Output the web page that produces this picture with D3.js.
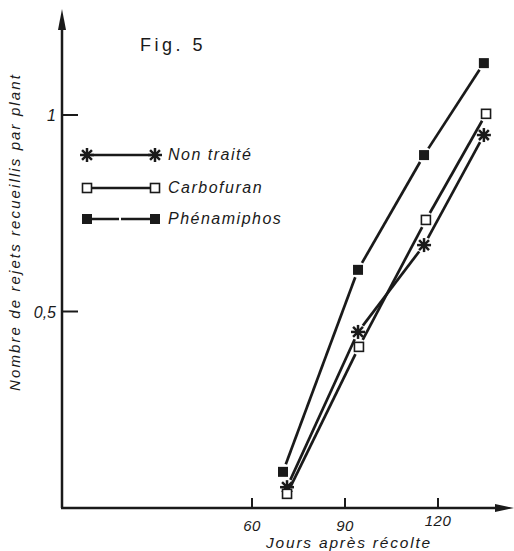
<!DOCTYPE html>
<html>
<head>
<meta charset="utf-8">
<script src="https://cdn.jsdelivr.net/npm/d3@7.9.0/dist/d3.min.js"></script>
<style>
  body { margin: 0; background: #fff; }
  svg { display: block; }
  text { font-family: "Liberation Sans", Arial, sans-serif; fill: #1a1a1a; }
  .it { font-style: italic; }
</style>
</head>
<body>
<svg width="514" height="551"></svg>
<script>
// data
const seriesNames = ['Non traité', 'Carbofuran', 'Phénamiphos'];
const nonTraiteDays = [71.3, 94.2, 115.5, 134.8];
const nonTraiteVals = [0.053, 0.448, 0.669, 0.949];
const carbofuranDays = [71.3, 94.5, 116.1, 135.5];
const carbofuranVals = [0.036, 0.41, 0.733, 1.003];
const phenamiphosDays = [70.0, 94.2, 115.5, 134.8];
const phenamiphosVals = [0.092, 0.606, 0.898, 1.132];
const xTicks = [60, 90, 120];
const yTicks = [0.5, 1];
const yTickLabels = ['0,5', '1'];

const series = [
  { name: seriesNames[0], marker: 'star', days: nonTraiteDays, vals: nonTraiteVals },
  { name: seriesNames[1], marker: 'open', days: carbofuranDays, vals: carbofuranVals },
  { name: seriesNames[2], marker: 'filled', days: phenamiphosDays, vals: phenamiphosVals }
];

const svg = d3.select('svg');
const ink = '#1a1a1a';

let x = d3.scaleLinear().domain([60, 120]).range([252, 438]);
let y = d3.scaleLinear().domain([0, 1]).range([508, 115]);

const x0 = 62, yBase = 508;

// axes lines with arrows
svg.append('line').attr('x1', x0).attr('y1', yBase).attr('x2', x0).attr('y2', 22)
  .attr('stroke', ink).attr('stroke-width', 2.5);
svg.append('path').attr('d', `M${x0 - 4},30 L${x0},9 L${x0 + 4},30 Z`).attr('fill', ink);
svg.append('line').attr('x1', x0 - 1).attr('y1', yBase).attr('x2', 503).attr('y2', yBase)
  .attr('stroke', ink).attr('stroke-width', 2.5);
svg.append('path').attr('d', `M495,${yBase - 4} L514,${yBase} L495,${yBase + 4} Z`).attr('fill', ink);

// x ticks
xTicks.forEach((t, i) => {
  svg.append('line').attr('x1', x(t)).attr('x2', x(t)).attr('y1', yBase).attr('y2', yBase - 10)
    .attr('stroke', ink).attr('stroke-width', 2);
  svg.append('text').attr('class', 'it').attr('x', x(t)).attr('y', i === 2 ? 526 : 531)
    .attr('text-anchor', 'middle').attr('font-size', 15).attr('letter-spacing', 0.5).text(t);
});

// y ticks
yTicks.forEach((t, i) => {
  svg.append('line').attr('x1', x0).attr('x2', x0 + 16).attr('y1', y(t)).attr('y2', y(t))
    .attr('stroke', ink).attr('stroke-width', 2);
  svg.append('text').attr('class', 'it').attr('x', 56).attr('y', y(t) + 6)
    .attr('text-anchor', 'end').attr('font-size', 16).text(yTickLabels[i]);
});

// axis titles
svg.append('text').attr('class', 'it').attr('x', 349).attr('y', 548)
  .attr('text-anchor', 'middle').attr('font-size', 15.5).attr('letter-spacing', 1.8)
  .text('Jours après récolte');
svg.append('text').attr('class', 'it')
  .attr('transform', 'translate(20,232) rotate(-90)')
  .attr('text-anchor', 'middle').attr('font-size', 15).attr('letter-spacing', 2.1)
  .text('Nombre de rejets recueillis par plant');

svg.append('text').attr('x', 140).attr('y', 51).attr('font-size', 18)
  .attr('letter-spacing', 3.5).text('Fig. 5');

// markers
function drawMarker(g, kind, cx, cy) {
  if (kind === 'star') {
    const r = 7;
    for (let k = 0; k < 4; k++) {
      const a = k * Math.PI / 4;
      g.append('line')
        .attr('x1', cx - r * Math.cos(a)).attr('y1', cy - r * Math.sin(a))
        .attr('x2', cx + r * Math.cos(a)).attr('y2', cy + r * Math.sin(a))
        .attr('stroke', ink).attr('stroke-width', 2.5);
    }
    g.append('circle').attr('cx', cx).attr('cy', cy).attr('r', 3.2).attr('fill', ink);
  } else if (kind === 'open') {
    g.append('rect').attr('x', cx - 4.5).attr('y', cy - 4.5).attr('width', 9).attr('height', 9)
      .attr('fill', '#fff').attr('stroke', ink).attr('stroke-width', 1.6);
  } else {
    g.append('rect').attr('x', cx - 5).attr('y', cy - 5).attr('width', 10).attr('height', 10)
      .attr('fill', ink);
  }
}

// lines with small gaps at the markers
function gapLine(g, ax, ay, bx, by, gap, dash) {
  const dx = bx - ax, dy = by - ay, len = Math.hypot(dx, dy);
  const ux = dx / len, uy = dy / len;
  const l = g.append('line')
    .attr('x1', ax + ux * gap).attr('y1', ay + uy * gap)
    .attr('x2', bx - ux * gap).attr('y2', by - uy * gap)
    .attr('stroke', ink).attr('stroke-width', 2.7);
  if (dash) l.attr('stroke-dasharray', dash);
}

const plot = svg.append('g');
series.forEach((s) => {
  const pts = s.days.map((d, i) => [x(d), y(s.vals[i])]);
  d3.pairs(pts).forEach(([a, b]) => gapLine(plot, a[0], a[1], b[0], b[1], 8));
});
series.forEach((s) => {
  s.days.forEach((d, i) => drawMarker(plot, s.marker, x(d), y(s.vals[i])));
});

// legend
const legendY = [155, 188, 219];
series.forEach((s, i) => {
  const g = svg.append('g');
  gapLine(g, 87, legendY[i], 155, legendY[i], 4, i === 2 ? '28,2,40' : null);
  drawMarker(g, s.marker, 87, legendY[i]);
  drawMarker(g, s.marker, 155, legendY[i]);
  g.append('text').attr('class', 'it').attr('x', 168).attr('y', legendY[i] + 5)
    .attr('font-size', 16).attr('letter-spacing', 1.5).text(s.name);
});
</script>
</body>
</html>
